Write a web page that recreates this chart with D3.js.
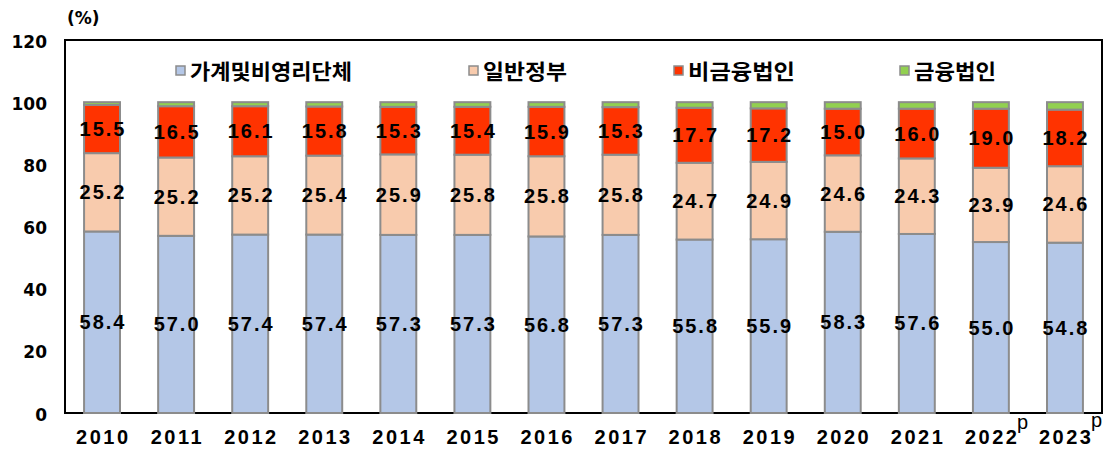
<!DOCTYPE html>
<html><head><meta charset="utf-8">
<script src="https://cdn.jsdelivr.net/npm/d3@7"></script>
<style>body{margin:0;background:#fff}svg{display:block}</style>
</head><body><svg id="c" width="1108" height="449"></svg>
<script>
const years = ["2010","2011","2012","2013","2014","2015","2016","2017","2018","2019","2020","2021","2022","2023"];
const prelim = ["2022","2023"];
const seriesNames = ["가계및비영리단체","일반정부","비금융법인","금융법인"];
const household = [58.4,57.0,57.4,57.4,57.3,57.3,56.8,57.3,55.8,55.9,58.3,57.6,55.0,54.8];
const government = [25.2,25.2,25.2,25.4,25.9,25.8,25.8,25.8,24.7,24.9,24.6,24.3,23.9,24.6];
const nonfinancial = [15.5,16.5,16.1,15.8,15.3,15.4,15.9,15.3,17.7,17.2,15.0,16.0,19.0,18.2];
const financial = [0.9,1.3,1.3,1.4,1.5,1.5,1.5,1.6,1.8,2.0,2.1,2.1,2.1,2.4];
const yTicks = [0,20,40,60,80,100,120];
const colors = ["#b4c7e7","#f8cbad","#ff3300","#92d050"];

const svg = d3.select("#c");
const L=65,R=1102,T=40,B=413;
const x = d3.scaleBand().domain(years).range([L,R]).paddingInner(0.515).paddingOuter(0.2575);
const y = d3.scaleLinear().domain([0,120]).range([B,T]);

const rows = years.map((yr,i)=>({year:yr, s0:household[i], s1:government[i], s2:nonfinancial[i], s3:financial[i]}));
const stack = d3.stack().keys(["s0","s1","s2","s3"])(rows);

const fontNum = "'Liberation Sans', Arial, sans-serif";
const fontWide = "'DejaVu Sans', sans-serif";

// frame
svg.append("rect").attr("x",L).attr("y",T).attr("width",R-L).attr("height",B-T)
  .attr("fill","none").attr("stroke","#000").attr("stroke-width",2);

// bars
stack.forEach((layer,k)=>{
  svg.append("g").selectAll("rect").data(layer).join("rect")
    .attr("x",d=>x(d.data.year)).attr("width",x.bandwidth())
    .attr("y",d=>y(d[1])).attr("height",d=>y(d[0])-y(d[1]))
    .attr("fill",colors[k]).attr("stroke","#8c8c8c").attr("stroke-width",2);
});

// data labels
const ls = 2;
stack.slice(0,3).forEach((layer,k)=>{
  svg.append("g").selectAll("text").data(layer).join("text")
    .attr("x",d=>x(d.data.year)+x.bandwidth()/2+ls/2)
    .attr("y",d=>(y(d[0])+y(d[1]))/2+7)
    .attr("text-anchor","middle")
    .attr("font-family",fontNum).attr("font-weight","bold").attr("font-size",20)
    .attr("letter-spacing",ls+"px").attr("fill","#000")
    .text(d=>(d[1]-d[0]).toFixed(1));
});

// y axis labels
svg.append("g").selectAll("text").data(yTicks).join("text")
  .attr("x",47).attr("y",d=>y(d)+7.5).attr("text-anchor","end")
  .attr("font-family",fontWide).attr("font-weight","bold").attr("font-size",17)
  .text(d=>d);
svg.append("text").attr("x",67).attr("y",24).attr("font-family",fontWide)
  .attr("font-weight","bold").attr("font-size",17).text("(%)");

// x labels
const xl = svg.append("g").selectAll("g").data(years).join("g");
xl.append("text").attr("x",d=>x(d)+x.bandwidth()/2+1.25).attr("y",444)
  .attr("text-anchor","middle").attr("font-family",fontNum).attr("font-weight","bold")
  .attr("font-size",20).attr("letter-spacing","2.5px").text(d=>d);
xl.filter(d=>prelim.includes(d)).append("text")
  .attr("x",d=>x(d)+x.bandwidth()/2+26).attr("y",(d,i)=>i===0?429:427)
  .attr("font-family",fontNum).attr("font-size",20).text("p");

// legend
const legX = [176,469,674,900];
const legW = [162,84,107,82];
const lg = svg.append("g").selectAll("g").data(seriesNames).join("g")
  .attr("transform",(d,i)=>`translate(${legX[i]},65)`);
lg.append("rect").attr("width",9).attr("height",9).attr("y",1)
  .attr("fill",(d,i)=>colors[i]).attr("stroke","#8c8c8c").attr("stroke-width",1.5);
lg.append("text").attr("x",14).attr("y",13.5)
  .attr("font-family","'Noto Sans CJK KR', sans-serif").attr("font-weight","bold")
  .attr("font-size",21).attr("textLength",(d,i)=>legW[i]).attr("lengthAdjust","spacingAndGlyphs")
  .text(d=>d);
</script></body></html>
